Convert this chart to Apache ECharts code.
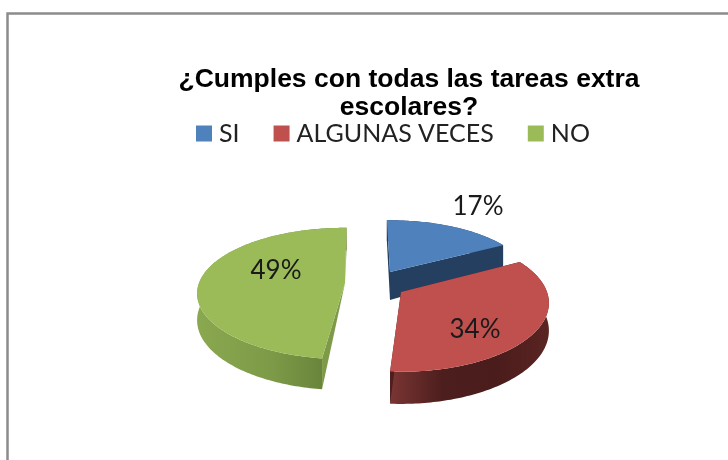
<!DOCTYPE html>
<html>
<head>
<meta charset="utf-8">
<style>
  html, body { margin: 0; padding: 0; background: #fff; }
  #chart { width: 728px; height: 460px; }
</style>
<script src="https://cdn.jsdelivr.net/npm/echarts@6/dist/echarts.min.js"></script>
</head>
<body>
<div id="chart"></div>
<script>
const categories = ["SI", "ALGUNAS VECES", "NO"];
const percents = [17, 34, 49];
const titleText = "¿Cumples con todas las tareas extra\nescolares?";

// how each exploded slice sits on the page (p = perspective strength)
const sliceLook = [
  {
    cx: 390, cy: 272, a: 139, b: 60, p: 0.16, depth: 24, apexDepth: 28, padStart: -1.5, padEnd: 0,
    top: "#4f81bd", wall: "#243f60", cut: "#243f60", labelX: 478, labelY: 207
  },
  {
    cx: 401, cy: 292, a: 146, b: 67, p: 0.16, depth: 27, apexDepth: 27, padStart: 0, padEnd: 0,
    top: "#c0504d", wall: ["#7a3533", "#4c1e1d", "#4a1c1b", "#5a2422"], cut: "#4c1e1d", labelX: 475, labelY: 330
  },
  {
    cx: 345, cy: 283, a: 146, b: 64, p: 0.16, depth: 26, apexDepth: 0, padStart: 4, padEnd: 0.7,
    top: "#9bbb59", wall: ["#8aa84f", "#7d9a48", "#5f7b35"], cut: "#7e9a48", labelX: 276, labelY: 271
  }
];

const total = percents.reduce((s, v) => s + v, 0);

function project(look, deg) {
  const t = deg * Math.PI / 180;
  const u = Math.sin(t), v = Math.cos(t);
  const s = 1 / (1 + look.p * v);
  return { x: look.cx + look.a * u * s, y: look.cy - look.b * v * s, s: s };
}

function wallFill(c) {
  if (typeof c === "string") return c;
  return {
    type: "linear", x: 0, y: 0, x2: 1, y2: 0,
    colorStops: c.map((col, i) => ({ offset: i / (c.length - 1), color: col }))
  };
}

function renderSlice(index) {
  return function (params, api) {
    const look = sliceLook[index];
    let before = 0;
    for (let i = 0; i < index; i++) before += percents[i];
    const from = before / total * 360 + look.padStart;
    const to = (before + api.value(0)) / total * 360 + look.padEnd;

    const rim = [];
    const under = [];
    for (let d = from; d < to; d += 1) rim.push(project(look, d));
    rim.push(project(look, to));
    rim.forEach(pt => under.push([pt.x, pt.y + look.depth * pt.s]));

    const first = rim[0], last = rim[rim.length - 1];
    const apexLow = [look.cx, look.cy + look.apexDepth];
    const apex = [look.cx, look.cy];
    const poly = (pts, fill) => ({ type: "polygon", shape: { points: pts }, style: { fill: fill } });

    return {
      type: "group",
      children: [
        poly(rim.map(pt => [pt.x, pt.y]).concat(under.slice().reverse()), wallFill(look.wall)),
        poly([apex, [first.x, first.y], under[0], apexLow], look.cut),
        poly([apex, [last.x, last.y], under[under.length - 1], apexLow], look.cut),
        poly([apex].concat(rim.map(pt => [pt.x, pt.y])), look.top),
        {
          type: "text",
          style: {
            x: look.labelX, y: look.labelY, text: api.value(0) + "%",
            fill: "#1a1a1a", font: "26px Lato", textAlign: "center", textVerticalAlign: "middle"
          }
        }
      ]
    };
  };
}

const chart = echarts.init(document.getElementById("chart"));
chart.setOption({
  animation: false,
  backgroundColor: "#fff",
  title: {
    text: titleText,
    left: 404,
    top: 61,
    textAlign: "center",
    textStyle: { fontFamily: "Liberation Sans", fontWeight: "bold", fontSize: 26.5, lineHeight: 28, color: "#000" }
  },
  legend: {
    data: categories,
    left: 191,
    top: 116,
    icon: "rect",
    itemWidth: 16,
    itemHeight: 16,
    itemGap: 34,
    textStyle: { fontFamily: "Lato", fontSize: 25, color: "#222", padding: [0, 0, 0, 2] }
  },
  graphic: [
    {
      type: "polyline",
      shape: { points: [[7.5, 460], [7.5, 13.5], [728, 13.5]] },
      style: { fill: null, stroke: "#8c8c8c", lineWidth: 2.5 }
    }
  ],
  series: categories.map((name, i) => ({
    type: "custom",
    name: name,
    coordinateSystem: "none",
    silent: true,
    itemStyle: { color: sliceLook[i].top },
    renderItem: renderSlice(i),
    data: [[percents[i]]]
  }))
});
</script>
</body>
</html>
